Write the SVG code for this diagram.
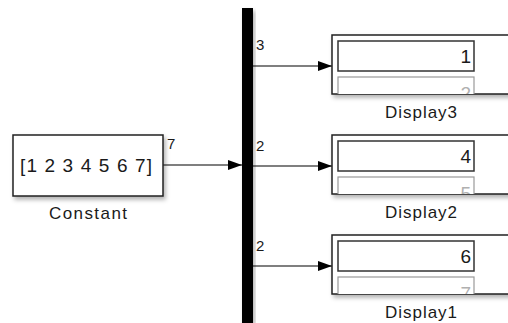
<svg xmlns="http://www.w3.org/2000/svg" width="508" height="323" viewBox="0 0 508 323">
<style>
  text { font-family: "Liberation Sans", Arial, sans-serif; fill: #1a1a1a; }
  .blk { fill: #fff; stroke: #222; stroke-width: 1.5; }
  .inner { fill: #fff; stroke: #333; stroke-width: 1.5; }
  .inner2 { fill: #fff; stroke: #999; stroke-width: 1.2; }
  .wire { stroke: #000; stroke-width: 1.2; fill: none; }
  .lbl { font-size: 17px; text-anchor: middle; }
  .port { font-size: 15px; }
  .val { font-size: 19px; text-anchor: end; }
  .val2 { font-size: 19px; text-anchor: end; fill: #b0b0b0; }
</style>
<defs>
  <filter id="sh" x="-10%" y="-10%" width="130%" height="140%">
    <feDropShadow dx="2" dy="3" stdDeviation="2" flood-color="#000" flood-opacity="0.3"/>
  </filter>
  <marker id="ah" markerWidth="14" markerHeight="10" refX="14" refY="5" orient="auto" markerUnits="userSpaceOnUse">
    <path d="M0,0 L14,5 L0,10 Z" fill="#000"/>
  </marker>
  <clipPath id="c3"><rect x="333" y="36" width="180" height="58"/></clipPath>
  <clipPath id="c2"><rect x="333" y="136" width="180" height="58"/></clipPath>
  <clipPath id="c1"><rect x="333" y="236" width="180" height="58"/></clipPath>
</defs>

<g id="connectors">
  <line class="wire" x1="163" y1="165" x2="242" y2="165" marker-end="url(#ah)"/>
  <line class="wire" x1="253" y1="66" x2="332" y2="66" marker-end="url(#ah)"/>
  <line class="wire" x1="253" y1="166" x2="332" y2="166" marker-end="url(#ah)"/>
  <line class="wire" x1="253" y1="266" x2="332" y2="266" marker-end="url(#ah)"/>
  <text class="port" x="167" y="149">7</text>
  <text class="port" x="256" y="50">3</text>
  <text class="port" x="256" y="151">2</text>
  <text class="port" x="256" y="251">2</text>
</g>

<g id="constant">
  <rect class="blk" x="13" y="135" width="150" height="61" filter="url(#sh)"/>
  <text x="20" y="172" font-size="19" textLength="132" lengthAdjust="spacing">[1 2 3 4 5 6 7]</text>
  <text class="lbl" x="88" y="219" textLength="78" lengthAdjust="spacing">Constant</text>
</g>

<g id="demux">
  <rect x="242" y="8" width="11" height="315" fill="#000" filter="url(#sh)"/>
</g>

<g id="display3">
  <rect class="blk" x="332" y="35" width="190" height="59" filter="url(#sh)"/>
  <g clip-path="url(#c3)">
    <rect class="inner2" x="338" y="77" width="136" height="30"/>
    <text class="val2" x="471" y="100">2</text>
  </g>
  <rect class="inner" x="338" y="41" width="136" height="30"/>
  <text class="val" x="471" y="63">1</text>
  <text class="lbl" x="421" y="118" textLength="72" lengthAdjust="spacing">Display3</text>
</g>

<g id="display2">
  <rect class="blk" x="332" y="135" width="190" height="59" filter="url(#sh)"/>
  <g clip-path="url(#c2)">
    <rect class="inner2" x="338" y="177" width="136" height="30"/>
    <text class="val2" x="471" y="200">5</text>
  </g>
  <rect class="inner" x="338" y="141" width="136" height="30"/>
  <text class="val" x="471" y="163">4</text>
  <text class="lbl" x="421" y="218" textLength="72" lengthAdjust="spacing">Display2</text>
</g>

<g id="display1">
  <rect class="blk" x="332" y="235" width="190" height="59" filter="url(#sh)"/>
  <g clip-path="url(#c1)">
    <rect class="inner2" x="338" y="277" width="136" height="30"/>
    <text class="val2" x="471" y="300">7</text>
  </g>
  <rect class="inner" x="338" y="241" width="136" height="30"/>
  <text class="val" x="471" y="263">6</text>
  <text class="lbl" x="421" y="318" textLength="72" lengthAdjust="spacing">Display1</text>
</g>
</svg>
